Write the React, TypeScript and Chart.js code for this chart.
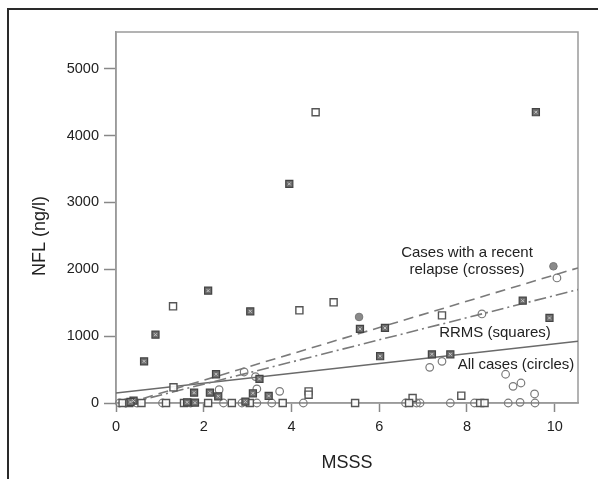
import React, { useEffect, useRef } from "react";
import { Chart, registerables } from "chart.js";

Chart.register(...registerables);

const xTickValues = [0, 2, 4, 6, 8, 10];
const yTickValues = [0, 1000, 2000, 3000, 4000, 5000];

// All cases (open circles)
const circleX = [2.35, 2.92, 3.18, 3.21, 3.73, 7.15, 7.43, 8.34, 8.88, 9.05, 9.23, 9.54, 10.05,
  0.08, 0.22, 0.47, 1.06, 1.7, 2.45, 2.87, 3.21, 3.55, 4.27, 6.6, 6.85, 6.93, 7.62, 8.17, 8.94, 9.21, 9.55];
const circleY = [200, 464, 395, 210, 174, 533, 623, 1332, 430, 249, 299, 135, 1871,
  0, 0, 0, 0, 0, 0, 0, 0, 0, 0, 0, 0, 0, 0, 0, 0, 10, 0];

// RRMS (open squares)
const squareX = [1.3, 4.55, 4.18, 4.96, 7.43, 1.31, 4.39, 4.39, 7.87, 6.76,
  0.15, 0.3, 0.58, 1.14, 1.55, 2.1, 2.64, 3.05, 3.8, 5.45, 6.68, 8.3, 8.4];
const squareY = [1446, 4350, 1386, 1506, 1311, 234, 174, 125, 110, 75,
  0, 0, 0, 0, 0, 0, 0, 0, 0, 0, 0, 0, 0];

// RRMS with recent relapse (squares with crosses)
const crossSquareX = [0.64, 0.9, 2.1, 3.06, 3.95, 9.57, 5.56, 6.13, 6.02, 7.2, 7.62, 9.27, 9.88,
  2.28, 1.78, 2.14, 2.33, 3.27, 3.12, 3.48, 0.4, 0.33, 1.62, 1.8, 2.95];
const crossSquareY = [623, 1022, 1681, 1371, 3278, 4350, 1108, 1123, 700, 728, 728, 1531, 1272,
  430, 155, 155, 100, 360, 145, 105, 35, 15, 10, 5, 20];

// Recent relapse, not RRMS (circles with crosses)
const crossCircleX = [5.54, 9.97];
const crossCircleY = [1287, 2045];

// Regression lines
const fitAllX = [0, 10.53];
const fitAllY = [148, 925];
const fitRRMSX = [0.3, 10.53];
const fitRRMSY = [0, 1696];
const fitRelapseX = [0.27, 10.53];
const fitRelapseY = [0, 2021];

const pts = (xs: number[], ys: number[]) => xs.map((x, i) => ({ x, y: ys[i] }));

const FONT = "'Liberation Sans', Arial, Helvetica, sans-serif";

const overlayPlugin = {
  id: "overlay",
  beforeDatasetsDraw(chart: any) {
    const { ctx, chartArea: a } = chart;
    ctx.save();
    ctx.strokeStyle = "#9a9a9a";
    ctx.lineWidth = 1.5;
    ctx.strokeRect(a.left, a.top, a.right - a.left, a.bottom - a.top);
    ctx.restore();
  },
  afterDatasetsDraw(chart: any) {
    const { ctx } = chart;
    ctx.save();
    ctx.fillStyle = "#222";
    ctx.textAlign = "center";
    ctx.textBaseline = "middle";
    ctx.font = `15px ${FONT}`;
    ctx.fillText("Cases with a recent", 467, 253);
    ctx.fillText("relapse (crosses)", 467, 270);
    ctx.fillText("RRMS (squares)", 495, 333);
    ctx.fillText("All cases (circles)", 516, 365);
    ctx.font = `18px ${FONT}`;
    ctx.fillText("MSSS", 347, 463);
    ctx.translate(40, 236);
    ctx.rotate(-Math.PI / 2);
    ctx.fillText("NFL (ng/l)", 0, 0);
    ctx.restore();
  },
};

export default function App() {
  const ref = useRef<HTMLCanvasElement>(null);
  useEffect(() => {
    if (!ref.current) return;
    const chart = new Chart(ref.current, {
      type: "scatter",
      data: {
        datasets: [
          {
            label: "Relapse overlay",
            data: pts(crossSquareX, crossSquareY),
            pointStyle: "crossRot",
            pointRadius: 2,
            borderColor: "#c8c8c8",
            borderWidth: 1,
            backgroundColor: "#c8c8c8",
            clip: false,
            order: 0,
          } as any,
          {
            label: "RRMS relapse",
            data: pts(crossSquareX, crossSquareY),
            pointStyle: "rect",
            pointRadius: 5,
            backgroundColor: "#6e6e6e",
            borderColor: "#444",
            borderWidth: 1.2,
            clip: false,
            order: 1,
          } as any,
          {
            label: "Relapse circles",
            data: pts(crossCircleX, crossCircleY),
            pointStyle: "circle",
            pointRadius: 3.8,
            backgroundColor: "#8a8a8a",
            borderColor: "#777",
            borderWidth: 1,
            clip: false,
            order: 2,
          } as any,
          {
            label: "RRMS",
            data: pts(squareX, squareY),
            pointStyle: "rect",
            pointRadius: 5,
            backgroundColor: "rgba(255,255,255,0.9)",
            borderColor: "#555",
            borderWidth: 1.4,
            clip: false,
            order: 3,
          } as any,
          {
            label: "All cases",
            data: pts(circleX, circleY),
            pointStyle: "circle",
            pointRadius: 3.8,
            backgroundColor: "rgba(255,255,255,0)",
            borderColor: "#7a7a7a",
            borderWidth: 1.2,
            clip: false,
            order: 4,
          } as any,
          {
            label: "Fit relapse",
            data: pts(fitRelapseX, fitRelapseY),
            showLine: true,
            pointRadius: 0,
            borderColor: "#7a7a7a",
            borderWidth: 1.6,
            borderDash: [10, 6],
            order: 5,
          } as any,
          {
            label: "Fit RRMS",
            data: pts(fitRRMSX, fitRRMSY),
            showLine: true,
            pointRadius: 0,
            borderColor: "#7a7a7a",
            borderWidth: 1.6,
            borderDash: [12, 4, 2, 4],
            order: 6,
          } as any,
          {
            label: "Fit all",
            data: pts(fitAllX, fitAllY),
            showLine: true,
            pointRadius: 0,
            borderColor: "#6a6a6a",
            borderWidth: 1.5,
            order: 7,
          } as any,
        ],
      },
      options: {
        responsive: false,
        devicePixelRatio: 1,
        animation: false,
        layout: { padding: { left: 0, top: 32, right: 20, bottom: 0 } },
        plugins: { legend: { display: false }, tooltip: { enabled: false } },
        scales: {
          x: {
            type: "linear",
            min: 0,
            max: 10.53,
            afterFit: (s: any) => { s.height = 76; },
            afterBuildTicks: (s: any) => { s.ticks = xTickValues.map((v) => ({ value: v })); },
            ticks: {
              font: { family: FONT, size: 14.5 },
              color: "#222",
              padding: 6,
              includeBounds: false,
              callback: (v: any) => String(v),
            },
            grid: { drawOnChartArea: false, drawTicks: true, tickLength: 9, color: "#888", tickWidth: 1.5 },
            border: { display: true, color: "#9a9a9a", width: 1.5 },
          },
          y: {
            type: "linear",
            min: 0,
            max: 5550,
            afterFit: (s: any) => { s.width = 116; },
            afterBuildTicks: (s: any) => { s.ticks = yTickValues.map((v) => ({ value: v })); },
            ticks: {
              font: { family: FONT, size: 14.5 },
              color: "#222",
              padding: 5,
              includeBounds: false,
              callback: (v: any) => String(v),
            },
            grid: { drawOnChartArea: false, drawTicks: true, tickLength: 12, color: "#888", tickWidth: 1.5 },
            border: { display: true, color: "#9a9a9a", width: 1.5 },
          },
        },
      } as any,
      plugins: [overlayPlugin],
    });
    return () => chart.destroy();
  }, []);

  return (
    <div style={{ position: "absolute", left: 0, top: 0, width: 598, height: 479, background: "#fff", overflow: "hidden" }}>
      <div
        style={{
          position: "absolute",
          left: 7,
          top: 8,
          width: 700,
          height: 600,
          borderTop: "2px solid #2a2a2a",
          borderLeft: "2px solid #2a2a2a",
        }}
      />
      <canvas ref={ref} width={598} height={479} style={{ position: "absolute", left: 0, top: 0 }} />
    </div>
  );
}
